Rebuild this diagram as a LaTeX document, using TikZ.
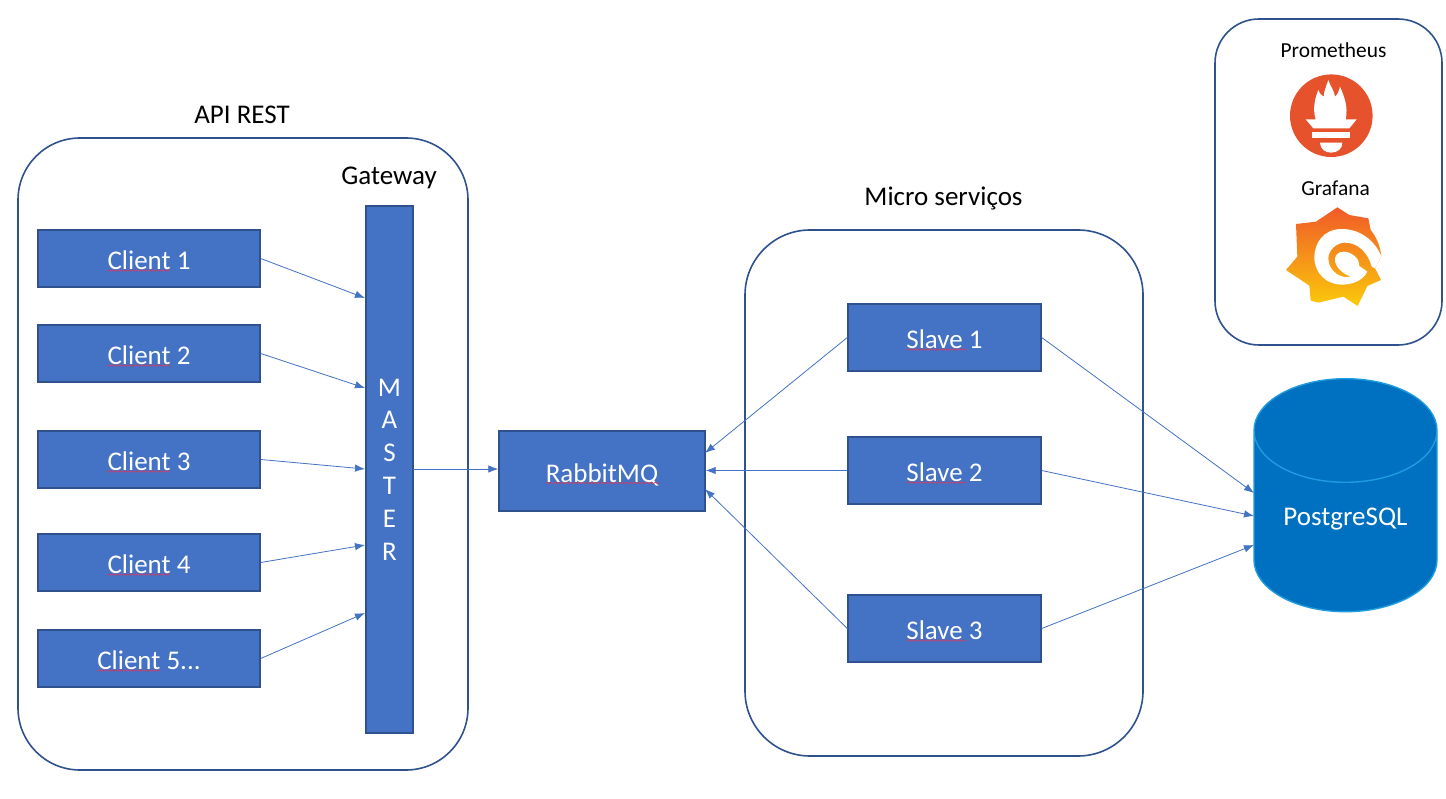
\documentclass[tikz,border=0pt]{standalone}
\usepackage{fontspec}
\setmainfont{Carlito}
\usetikzlibrary{shapes.geometric,decorations.pathmorphing,arrows.meta}
\definecolor{boxblue}{HTML}{4472C4}
\definecolor{boxline}{HTML}{2F528F}
\definecolor{arrowblue}{HTML}{4472C4}
\definecolor{dbblue}{HTML}{0070C0}
\definecolor{dbline}{HTML}{1F9BE0}
\definecolor{promred}{HTML}{E6522C}
\definecolor{graforange}{HTML}{F05A28}
\definecolor{grafyellow}{HTML}{FBCA0A}
\definecolor{spellred}{HTML}{C8406A}
\tikzset{
    panel/.style={draw=boxline, line width=1.6pt, fill=white},
    bluebox/.style={draw=boxline, line width=1.4pt, fill=boxblue, text=white, font=\fontsize{27}{27}\selectfont, inner sep=0pt},
    boxlabel/.style={bluebox, text height=24pt, text depth=1.2pt},
    heading/.style={font=\fontsize{27}{27}\selectfont, text=black, inner sep=0pt},
    smallhead/.style={font=\fontsize{21.4}{21.4}\selectfont, text=black, inner sep=0pt},
    link/.style={-{Latex[length=10pt,width=7.5pt]}, draw=arrowblue, line width=0.8pt},
    squiggle/.style={draw=spellred, line width=0.8pt, decorate, decoration={snake, amplitude=0.7pt, segment length=4pt}},
}
\begin{document}
\begin{tikzpicture}[x=1pt, y=-1pt]
    \useasboundingbox (0,0) rectangle (1446,799);
    \fill[white] (0,0) rectangle (1446,799);
    % panels
    \draw[panel, rounded corners=62pt] (18,138) rectangle (468,770);
    \draw[panel, rounded corners=65pt] (745,230) rectangle (1143,756);
    \draw[panel, rounded corners=44pt] (1215,19) rectangle (1442,345);
    \node[heading] (apititle) at (242,115) {API REST};
    \node[heading] (gwtitle) at (389,178) {Gateway};
    \node[heading] (mstitle) at (943.5,198) {Micro serviços};
    \node[smallhead] (promtitle) at (1333.5,50) {Prometheus};
    \node[smallhead] (graftitle) at (1335.5,188) {Grafana};
    % clients
    \foreach \name/\ypos/\txt in {c1/258.5/Client 1, c2/353.5/Client 2, c3/459.5/Client 3, c4/562.5/Client 4}
        \node[boxlabel, minimum width=222pt, minimum height=57pt] (\name) at (149,\ypos) {\txt};
    \node[boxlabel, minimum width=222pt, minimum height=57pt] (c5) at (149,658.5) {Client 5...};
    \node[bluebox, minimum width=47pt, minimum height=527pt, align=center, font=\fontsize{27}{32.8}\selectfont] (master) at (389.5,469.5) {M\\A\\S\\T\\E\\R};
    \node[boxlabel, minimum width=206pt, minimum height=80pt] (rabbit) at (602,471) {RabbitMQ};
    % slaves
    \foreach \name/\ypos/\txt in {s1/337.5/Slave 1, s2/470.5/Slave 2, s3/628.5/Slave 3}
        \node[boxlabel, minimum width=193pt, minimum height=67pt] (\name) at (944.5,\ypos) {\txt};
    \node[cylinder, shape border rotate=90, aspect=0.835, anchor=top, draw=dbline, line width=1.4pt, fill=dbblue, text=white,
        text height=18pt, text depth=9.5pt,
        minimum width=183pt, minimum height=233pt, inner sep=0pt, font=\fontsize{27}{27}\selectfont] (db) at (1345.5,378) {PostgreSQL};
    % spell check marks
    \foreach \name in {c1,c2,c3,c4}
        \draw[squiggle] ([xshift=-42pt,yshift=-12pt]\name.center) -- ++(63,0);
    \draw[squiggle] ([xshift=-52pt,yshift=-12pt]c5.center) -- ++(63,0);
    \draw[squiggle] ([xshift=-56pt,yshift=-12pt]rabbit.center) -- ++(114,0);
    \foreach \name in {s1,s2,s3}
        \draw[squiggle] ([xshift=-38pt,yshift=-12pt]\name.center) -- ++(60,0);
    % end points on the tall boxes
    \coordinate (m1) at (365,298);
    \coordinate (m2) at (365,388);
    \coordinate (m3) at (365,469);
    \coordinate (m4) at (365,545);
    \coordinate (m5) at (365,613);
    \coordinate (mout) at (413,469);
    \coordinate (r1) at (705,453);
    \coordinate (r2) at (rabbit.east |- s2.west);
    \coordinate (r3) at (705,489);
    \coordinate (d1) at (1254,493);
    \coordinate (d2) at (1254,516);
    \coordinate (d3) at (1254,545);
    \foreach \i in {1,...,5}
        \draw[link] (c\i.east) -- (m\i);
    \draw[link] (mout) -- (rabbit.west |- mout);
    \foreach \i in {1,2,3} {
        \draw[link] (s\i.west) -- (r\i);
        \draw[link] (s\i.east) -- (d\i);
    }
    % prometheus logo
    \fill[promred] (1331.3,115.7) circle (41.3pt);
    \begin{scope}[shift={(1285,70)}, x=0.3333pt, y=-0.3333pt]
        \fill[white] (62,148) -- (92,148) .. controls (82,115) and (90,85) .. (100,60)
            .. controls (104,70) and (110,78) .. (116,80) .. controls (116,65) and (124,48) .. (130,30)
            .. controls (136,50) and (148,62) .. (150,80) .. controls (156,75) and (162,65) .. (165,50)
            .. controls (178,80) and (190,110) .. (182,148) -- (215,148) -- (193,175) -- (85,175) -- cycle;
        \fill[white] (82,185) rectangle (195,205);
        \fill[white] (105,218) -- (172,218) .. controls (172,236) and (158,248) .. (138,248) .. controls (120,248) and (105,236) .. (105,218) -- cycle;
    \end{scope}
    % grafana logo
    \begin{scope}[shift={(1280,200)}, x=0.3333pt, y=-0.3333pt]
        \shade[top color=graforange, bottom color=grafyellow] (172,22) -- (208,45) -- (265,55) -- (272,90)
            .. controls (288,110) and (300,135) .. (304,168) -- (285,205) -- (303,240) -- (262,258) -- (233,318)
            -- (190,290) -- (115,308) -- (92,302) -- (88,257) -- (18,210) -- (52,170) -- (48,72) -- (108,65) -- cycle;
        \fill[white] (304,168) .. controls (280,115) and (235,87) .. (185,87) .. controls (130,87) and (103,130) .. (103,172)
            .. controls (103,220) and (140,254) .. (185,254) .. controls (220,254) and (250,240) .. (262,215) -- (238,198)
            .. controls (238,170) and (210,155) .. (190,155) .. controls (172,155) and (162,170) .. (165,185)
            .. controls (170,205) and (190,222) .. (212,230) .. controls (185,238) and (145,215) .. (145,175)
            .. controls (145,150) and (170,128) .. (195,128) .. controls (235,128) and (265,160) .. (275,200) -- (285,205) -- cycle;
    \end{scope}
\end{tikzpicture}
\end{document}
